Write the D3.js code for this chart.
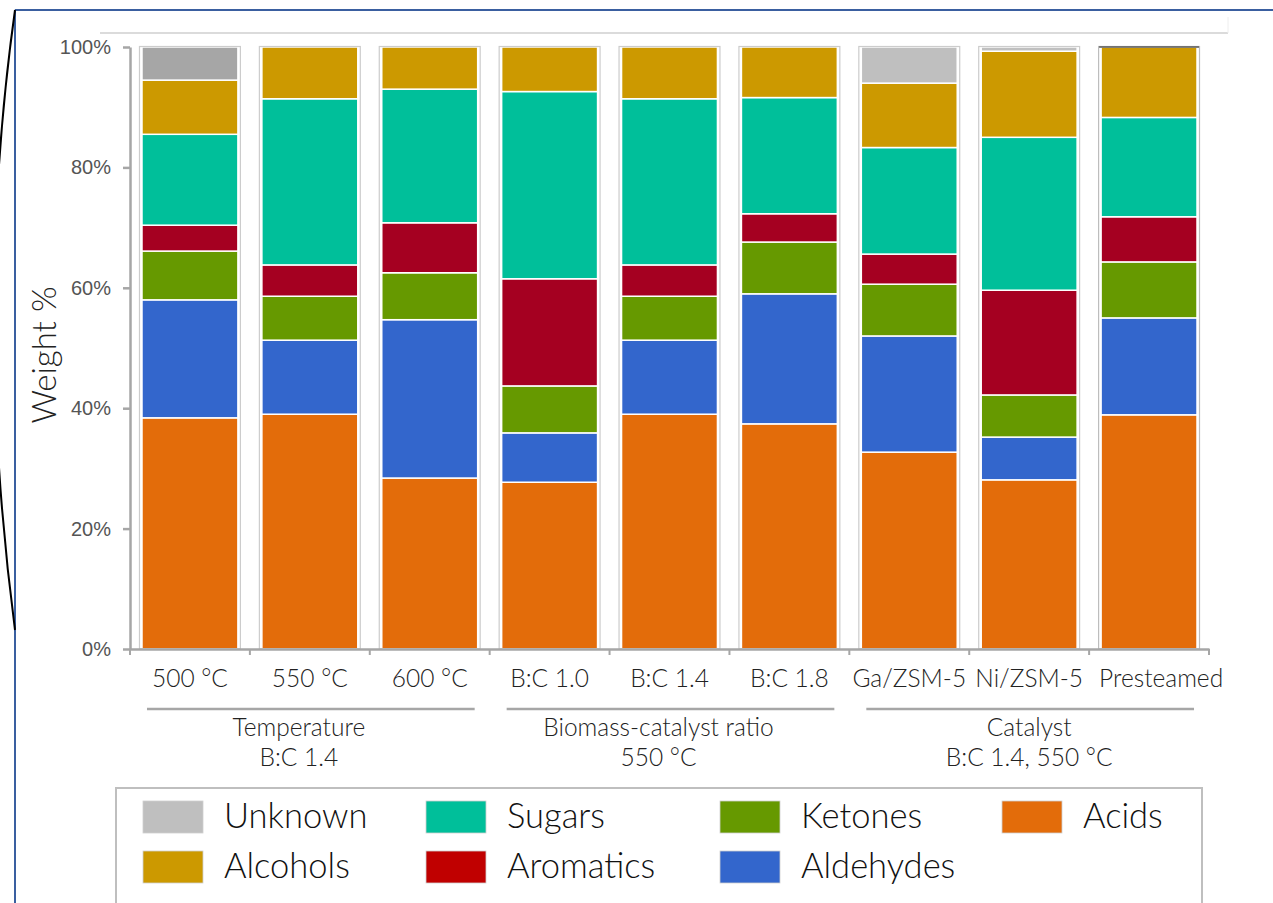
<!DOCTYPE html>
<html>
<head>
<meta charset="utf-8">
<script src="https://cdn.jsdelivr.net/npm/d3@7"></script>
<style>
  html, body { margin: 0; padding: 0; background: #fff; }
  svg { display: block; }
</style>
</head>
<body>
<svg id="chart" width="1273" height="903"></svg>
<script>
// ---------- DATA ----------
const categories = ["500 °C", "550 °C", "600 °C", "B:C 1.0", "B:C 1.4", "B:C 1.8", "Ga/ZSM-5", "Ni/ZSM-5", "Presteamed"];
const seriesNames = ["Acids", "Aldehydes", "Ketones", "Aromatics", "Sugars", "Alcohols", "Unknown"];
const acids     = [38.4, 39.0, 28.4, 27.7, 39.0, 37.4, 32.7, 28.1, 38.9];
const aldehydes = [19.6, 12.3, 26.3,  8.2, 12.3, 21.6, 19.3,  7.1, 16.1];
const ketones   = [ 8.1,  7.3,  7.8,  7.8,  7.3,  8.6,  8.6,  7.0,  9.3];
const aromatics = [ 4.3,  5.2,  8.3, 17.8,  5.2,  4.7,  5.0, 17.4,  7.5];
const sugars    = [15.1, 27.6, 22.2, 31.1, 27.6, 19.3, 17.7, 25.4, 16.5];
const alcohols  = [ 9.0,  8.6,  7.0,  7.4,  8.6,  8.4, 10.7, 14.3, 11.7];
const unknown   = [ 5.5,  0.0,  0.0,  0.0,  0.0,  0.0,  6.0,  0.7,  0.0];
const groups = [
  { name: "Temperature", sub: "B:C 1.4", members: ["500 °C", "550 °C", "600 °C"] },
  { name: "Biomass-catalyst ratio", sub: "550 °C", members: ["B:C 1.0", "B:C 1.4", "B:C 1.8"] },
  { name: "Catalyst", sub: "B:C 1.4, 550 °C", members: ["Ga/ZSM-5", "Ni/ZSM-5", "Presteamed"] }
];
const yTicks = [0, 20, 40, 60, 80, 100];
const legendOrder = [["Unknown", "Sugars", "Ketones", "Acids"], ["Alcohols", "Aromatics", "Aldehydes"]];

// ---------- STYLE ----------
const colors = {
  Unknown: "#bfbfbf", Alcohols: "#cc9900", Sugars: "#00bf9a", Aromatics: "#a50021",
  Ketones: "#669900", Aldehydes: "#3366cc", Acids: "#e36c0a"
};
const darkUnknown = "#a6a6a6"; // first bar's unknown share is drawn darker in the original
const legendColors = Object.assign({}, colors, { Aromatics: "#c00000" });
const txtFont = "Lato, 'Open Sans', sans-serif";
const tickFont = "'Liberation Sans', Arial, sans-serif";
const titleShift = [-11, -11, 0];

const valuesBySeries = { Acids: acids, Aldehydes: aldehydes, Ketones: ketones, Aromatics: aromatics,
  Sugars: sugars, Alcohols: alcohols, Unknown: unknown };
const table = categories.map((c, i) => {
  const row = { cat: c };
  seriesNames.forEach(s => row[s] = valuesBySeries[s][i]);
  return row;
});

const svg = d3.select("#chart");

// frame decorations
svg.append("line").attr("x1", 15).attr("x2", 1273).attr("y1", 10).attr("y2", 10)
  .attr("stroke", "#3a5fa0").attr("stroke-width", 2);
svg.append("line").attr("x1", 15).attr("x2", 15).attr("y1", 10).attr("y2", 903)
  .attr("stroke", "#3a5fa0").attr("stroke-width", 2);
svg.append("path").attr("d", "M15,10 Q-27,310 15,630").attr("fill", "none")
  .attr("stroke", "#000").attr("stroke-width", 2);
svg.append("line").attr("x1", 100).attr("x2", 1228).attr("y1", 33).attr("y2", 33)
  .attr("stroke", "#cfcfcf").attr("stroke-width", 1.5);
svg.append("line").attr("x1", 1228).attr("x2", 1228).attr("y1", 17).attr("y2", 33)
  .attr("stroke", "#eeeeee").attr("stroke-width", 1);

// scales
const x = d3.scaleBand().domain(categories).range([130, 1209]).paddingInner(0.2).paddingOuter(0.1);
const y = d3.scaleLinear().domain([0, 100]).range([649, 47]);

const stack = d3.stack().keys(seriesNames)(table);

// bars
const layer = svg.append("g").selectAll("g").data(stack).join("g");
layer.selectAll("rect").data(d => d.filter(p => p[1] - p[0] > 0).map(p => Object.assign(p, { key: d.key }))).join("rect")
  .attr("x", d => x(d.data.cat))
  .attr("width", x.bandwidth())
  .attr("y", d => y(d[1]))
  .attr("height", d => y(d[0]) - y(d[1]))
  .attr("fill", d => (d.key === "Unknown" && d.data.cat === categories[0]) ? darkUnknown : colors[d.key])
  .attr("stroke", "#ffffff").attr("stroke-width", 1.5);

// outline around each bar
svg.append("g").selectAll("rect").data(table).join("rect")
  .attr("x", d => x(d.cat) - 2.5)
  .attr("width", x.bandwidth() + 5)
  .attr("y", y(100) - 0.5)
  .attr("height", y(0) - y(100) + 0.5)
  .attr("fill", "none")
  .attr("stroke", (d, i) => i === categories.length - 1 ? "#bdbdbd" : "#cccccc")
  .attr("stroke-width", 1.2);
// darker top edge on the last bar
svg.append("line")
  .attr("x1", x(categories[categories.length - 1]) - 2)
  .attr("x2", x(categories[categories.length - 1]) + x.bandwidth() + 2)
  .attr("y1", y(100)).attr("y2", y(100))
  .attr("stroke", "#5a5a5a").attr("stroke-width", 1.5);

// y axis
const yAxis = svg.append("g").attr("transform", "translate(130,0)")
  .call(d3.axisLeft(y).tickValues(yTicks).tickFormat(d => d + "%").tickSize(7).tickSizeOuter(0));
yAxis.select(".domain").attr("stroke", "#a6a6a6").attr("stroke-width", 2.5);
yAxis.selectAll(".tick line").attr("stroke", "#a6a6a6").attr("stroke-width", 2.5);
yAxis.selectAll(".tick text").attr("font-family", tickFont).attr("font-size", 20)
  .attr("fill", "#555").attr("x", -19);

// x axis
const xAxis = svg.append("g").attr("transform", "translate(0,649)")
  .call(d3.axisBottom(x).tickSize(0).tickSizeOuter(0).tickPadding(21));
xAxis.select(".domain").attr("stroke", "#a6a6a6").attr("stroke-width", 2.5);
xAxis.selectAll(".tick text").attr("font-family", txtFont).attr("font-size", 24.5)
  .attr("font-weight", 300).attr("fill", "#222");
// last label starts at its bar's left edge
xAxis.selectAll(".tick text").filter(d => d === categories[categories.length - 1])
  .attr("text-anchor", "start").attr("x", -x.bandwidth() / 2 - 2);
const bounds = categories.map(c => x(c) - x.step() * x.paddingInner() / 2).concat([x.range()[1]]);
svg.append("g").selectAll("line").data(bounds).join("line")
  .attr("x1", d => d).attr("x2", d => d).attr("y1", 649).attr("y2", 655)
  .attr("stroke", "#a6a6a6").attr("stroke-width", 2);

// group brackets and titles
const gg = svg.append("g").selectAll("g").data(groups).join("g");
gg.append("line")
  .attr("x1", d => x(d.members[0]) + 5)
  .attr("x2", d => x(d.members[d.members.length - 1]) + x.bandwidth() - 3)
  .attr("y1", 709).attr("y2", 709)
  .attr("stroke", "#a6a6a6").attr("stroke-width", 2.5);
const mid = (d, i) => (x(d.members[0]) + x(d.members[d.members.length - 1]) + x.bandwidth()) / 2 + titleShift[i];
gg.append("text").attr("x", mid).attr("y", 736).attr("text-anchor", "middle")
  .attr("font-family", txtFont).attr("font-size", 24.5).attr("font-weight", 300)
  .attr("fill", "#222").text(d => d.name);
gg.append("text").attr("x", mid).attr("y", 766).attr("text-anchor", "middle")
  .attr("font-family", txtFont).attr("font-size", 24.5).attr("font-weight", 300)
  .attr("fill", "#222").text(d => d.sub);

// y label
svg.append("text").attr("transform", "translate(56,355) rotate(-90)")
  .attr("text-anchor", "middle").attr("font-family", txtFont).attr("font-size", 33)
  .attr("font-weight", 300).attr("fill", "#222").text("Weight %");

// legend
svg.append("rect").attr("x", 116).attr("y", 788).attr("width", 1086).attr("height", 140)
  .attr("fill", "#fff").attr("stroke", "#bfbfbf").attr("stroke-width", 2);
const colX = [143, 426, 720, 1002];
const rowY = [801, 851];
const legendItems = [];
legendOrder.forEach((row, r) => row.forEach((name, c) => legendItems.push({ name, r, c })));
const li = svg.append("g").selectAll("g").data(legendItems).join("g")
  .attr("transform", d => `translate(${colX[d.c]},${rowY[d.r]})`);
li.append("rect").attr("width", 60).attr("height", 32)
  .attr("fill", d => legendColors[d.name]).attr("stroke", "#d0d0d0").attr("stroke-width", 0.8);
li.append("text").attr("x", 81).attr("y", 27).attr("font-family", txtFont).attr("font-size", 34.5)
  .attr("font-weight", 300).attr("fill", "#111").text(d => d.name);
</script>
</body>
</html>
